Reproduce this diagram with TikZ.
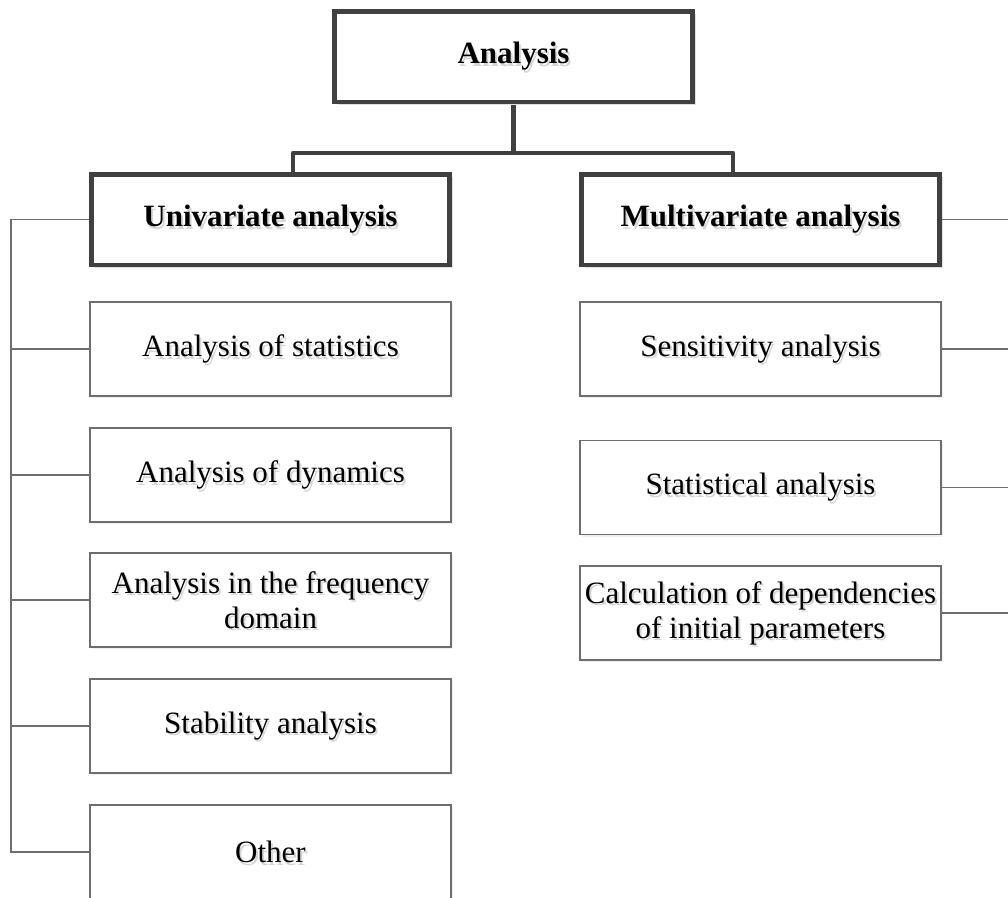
\documentclass[tikz,border=0pt]{standalone}
\usepackage{fontspec}
\setmainfont{Liberation Serif}
\usetikzlibrary{shadows}
\definecolor{thickc}{HTML}{404040}
\definecolor{thinc}{HTML}{6E6E6E}
\newcommand\mylabel[3][lbl]{%
  \node[#1,shd] (#2-s) at ([shift={(2,2.5)}]#2.center) {#3};
  \node[#1] (#2-t) at (#2.center) {#3};}
\begin{document}
\begin{tikzpicture}[x=1pt,y=-1pt,
  bigbox/.style={draw=thickc, line width=4.5pt, fill=white, minimum width=358pt,
    minimum height=90.5pt, inner sep=0pt,
    drop shadow={shadow xshift=3pt, shadow yshift=-3pt, fill=black!12, opacity=1}},
  smallbox/.style={draw=thinc, line width=1.1pt, fill=white, minimum width=361pt,
    minimum height=94pt, inner sep=0pt,
    drop shadow={shadow xshift=2pt, shadow yshift=-2pt, fill=black!6, opacity=1}},
  lbl/.style={font=\fontsize{31}{35}\selectfont, align=center, text=black, inner sep=0pt},
  lblb/.style={lbl, font=\fontsize{31}{35}\selectfont\bfseries},
  shd/.style={text=black!16},
  conn/.style={draw=thickc, line width=4.5pt, line join=round},
  thinconn/.style={draw=thinc, line width=1.1pt}
]
\useasboundingbox (0,0) rectangle (1008,897);

% coordinates for connector junctions
\coordinate (jl) at (293,153);
\coordinate (jr) at (733,153);
\coordinate (bus) at (11,0);
\coordinate (rb) at (1020,0);

% boxes (empty, positions)
\path
  (513.5,56.5) coordinate (ptop)
  (270.5,219.5) coordinate (puni)
  (760.5,219.5) coordinate (pmul);

% connectors first
\draw[conn] (513.5,102) coordinate (topb) -- (topb |- jl);
\draw[conn] (jl |- puni) ++(0,-40) coordinate (ul) (ul) -- (jl) -- (jr) -- (jr |- ul);

% thin connectors (drawn after nodes below for ends; nodes cover them)
\node[bigbox] (top) at (ptop) {};
\node[bigbox] (uni) at (puni) {};
\node[bigbox] (multi) at (pmul) {};

\node[smallbox] (stats) at (270.5,349) {};
\node[smallbox] (dyn) at (270.5,475) {};
\node[smallbox] (freq) at (270.5,600) {};
\node[smallbox] (stab) at (270.5,726) {};
\node[smallbox] (other) at (270.5,852) {};

\node[smallbox] (sens) at (760.5,349) {};
\node[smallbox] (statl) at (760.5,487.5) {};
\node[smallbox] (calc) at (760.5,613) {};

% thin connectors
\draw[thinconn] (uni.west) -- (uni.west -| bus) -- (other.west -| bus) -- (other.west);
\foreach \n in {stats,dyn,freq,stab}
  \draw[thinconn] (\n.west) -- (\n.west -| bus);
\foreach \n in {multi,sens,statl,calc}
  \draw[thinconn] (\n.east) -- (\n.east -| rb);

% labels
\mylabel[lblb]{top}{Analysis}
\mylabel[lblb]{uni}{Univariate analysis}
\mylabel[lblb]{multi}{Multivariate analysis}
\mylabel{stats}{Analysis of statistics}
\mylabel{dyn}{Analysis of dynamics}
\mylabel{freq}{Analysis in the frequency\\domain}
\mylabel{stab}{Stability analysis}
\mylabel{other}{Other}
\mylabel{sens}{Sensitivity analysis}
\mylabel{statl}{Statistical analysis}
\mylabel{calc}{Calculation of dependencies\\of initial parameters}
\end{tikzpicture}
\end{document}
